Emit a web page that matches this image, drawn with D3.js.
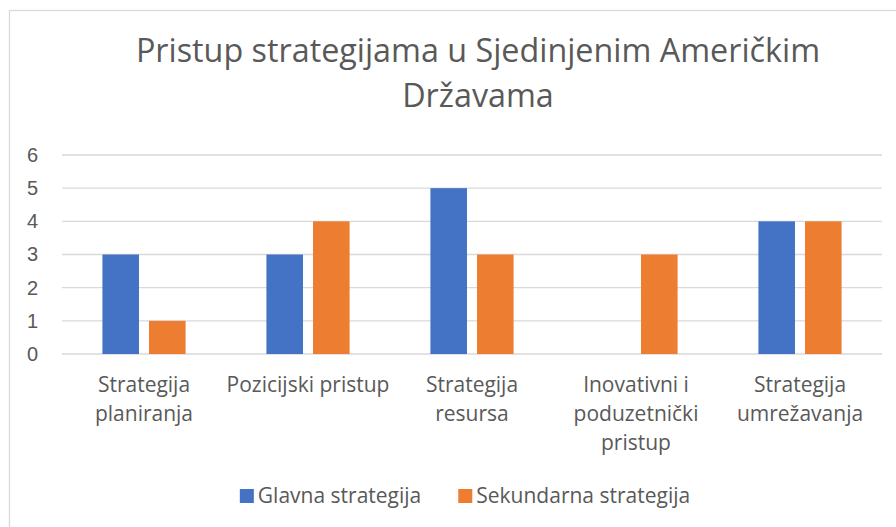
<!DOCTYPE html>
<html>
<head>
<meta charset="utf-8">
<script src="https://cdn.jsdelivr.net/npm/d3@7"></script>
<style>
    html, body { margin: 0; padding: 0; background: #fff; }
    svg { display: block; font-family: "Open Sans", "Noto Sans", sans-serif; }
    .grid line { stroke: #d9d9d9; stroke-width: 1.3; }
    .tick-label, .cat-label, .legend-label, .title { fill: #595959; }
</style>
</head>
<body>
<svg id="chart" width="896" height="527"></svg>
<script>
// Data
const titleLines = ['Pristup strategijama u Sjedinjenim Američkim', 'Državama'];
const categories = ['Strategija planiranja', 'Pozicijski pristup', 'Strategija resursa', 'Inovativni i poduzetnički pristup', 'Strategija umrežavanja'];
const categoryLines = [['Strategija', 'planiranja'], ['Pozicijski pristup'], ['Strategija', 'resursa'], ['Inovativni i', 'poduzetnički', 'pristup'], ['Strategija', 'umrežavanja']];
const seriesNames = ['Glavna strategija', 'Sekundarna strategija'];
const glavna = [3, 3, 5, 0, 4];
const sekundarna = [1, 4, 3, 3, 4];
const yTicks = [0, 1, 2, 3, 4, 5, 6];
const seriesColors = ['#4472c4', '#ed7d31'];

class BarChart {
    constructor(svgContainer) {
        this.svg = svgContainer;
        this.init();
    }

    init() {
        const vis = this;

        // Plot area (pixels inside the 896x527 frame)
        vis.margin = { top: 155, right: 14, bottom: 173, left: 62 };
        vis.width = 896 - vis.margin.left - vis.margin.right;
        vis.height = 527 - vis.margin.top - vis.margin.bottom;

        // Outer chart border (right / bottom edges run off the picture)
        vis.svg.append('rect')
          .attr('x', 9.5)
          .attr('y', 10.5)
          .attr('width', 900)
          .attr('height', 530)
          .attr('fill', 'none')
          .attr('stroke', '#d9d9d9')
          .attr('stroke-width', 1.3);

        // Title
        vis.svg.append('text')
          .attr('class', 'title')
          .attr('text-anchor', 'middle')
          .attr('font-size', 32.3)
          .selectAll('tspan')
          .data(titleLines)
          .join('tspan')
          .attr('x', 478)
          .attr('y', (d, i) => 62 + i * 45)
          .text((d) => d);

        vis.chart = vis.svg.append('g')
          .attr('transform', `translate(${vis.margin.left},${vis.margin.top})`);

        vis.data = categories.map((c, i) => ({ category: c, values: [glavna[i], sekundarna[i]] }));

        // Scales
        vis.x0 = d3.scaleBand().domain(categories).range([0, vis.width]);
        vis.x1 = d3.scaleBand().domain(seriesNames).range([0, vis.x0.bandwidth()])
          .paddingInner(0.215)
          .paddingOuter(0.867);
        vis.y = d3.scaleLinear().domain([0, 6]).range([vis.height, 0]);

        vis.update();
    }

    update() {
        const vis = this;

        // Gridlines
        vis.chart.append('g')
          .attr('class', 'grid')
          .selectAll('line')
          .data(yTicks)
          .join('line')
          .attr('x1', 0)
          .attr('x2', vis.width)
          .attr('y1', (d) => vis.y(d))
          .attr('y2', (d) => vis.y(d));

        // Y axis labels
        const yAxis = d3.axisLeft(vis.y)
          .tickValues(yTicks)
          .tickFormat(d3.format('d'))
          .tickSize(0)
          .tickPadding(24);
        const yG = vis.chart.append('g').call(yAxis);
        yG.select('.domain').remove();
        yG.selectAll('.tick text')
          .attr('class', 'tick-label')
          .attr('font-family', 'inherit')
          .attr('font-size', 20)
          .attr('fill', '#595959');

        // Bars
        const groups = vis.chart.append('g')
          .selectAll('g')
          .data(vis.data)
          .join('g')
          .attr('transform', (d) => `translate(${vis.x0(d.category)},0)`);

        groups.selectAll('rect')
          .data((d) => d.values.map((v, i) => ({ key: seriesNames[i], value: v, color: seriesColors[i] })))
          .join('rect')
          .attr('x', (d) => vis.x1(d.key))
          .attr('width', vis.x1.bandwidth())
          .attr('y', (d) => vis.y(d.value))
          .attr('height', (d) => vis.height - vis.y(d.value))
          .attr('fill', (d) => d.color);

        // Category labels (wrapped as in the original)
        vis.chart.append('g')
          .selectAll('text')
          .data(categories)
          .join('text')
          .attr('class', 'cat-label')
          .attr('text-anchor', 'middle')
          .attr('font-size', 21)
          .each(function (d, i) {
              d3.select(this).selectAll('tspan')
                .data(categoryLines[i])
                .join('tspan')
                .attr('x', vis.x0(d) + vis.x0.bandwidth() / 2)
                .attr('y', (l, j) => vis.height + 38 + j * 29)
                .text((l) => l);
          });

        // Legend, centred under the plot
        const legend = vis.svg.append('g');
        const items = legend.selectAll('g')
          .data(seriesNames)
          .join('g');
        items.append('rect')
          .attr('width', 14)
          .attr('height', 14)
          .attr('y', 489)
          .attr('fill', (d, i) => seriesColors[i]);
        items.append('text')
          .attr('class', 'legend-label')
          .attr('font-size', 21)
          .attr('x', 18)
          .attr('y', 503)
          .text((d) => d);

        let offset = 0;
        items.each(function () {
            const w = d3.select(this).select('text').node().getComputedTextLength();
            d3.select(this).attr('transform', `translate(${offset},0)`);
            offset += 18 + w + 37;
        });
        const totalWidth = offset - 37;
        legend.attr('transform', `translate(${465 - totalWidth / 2},0)`);
    }
}

const barChart = new BarChart(d3.select('#chart'));
</script>
</body>
</html>
